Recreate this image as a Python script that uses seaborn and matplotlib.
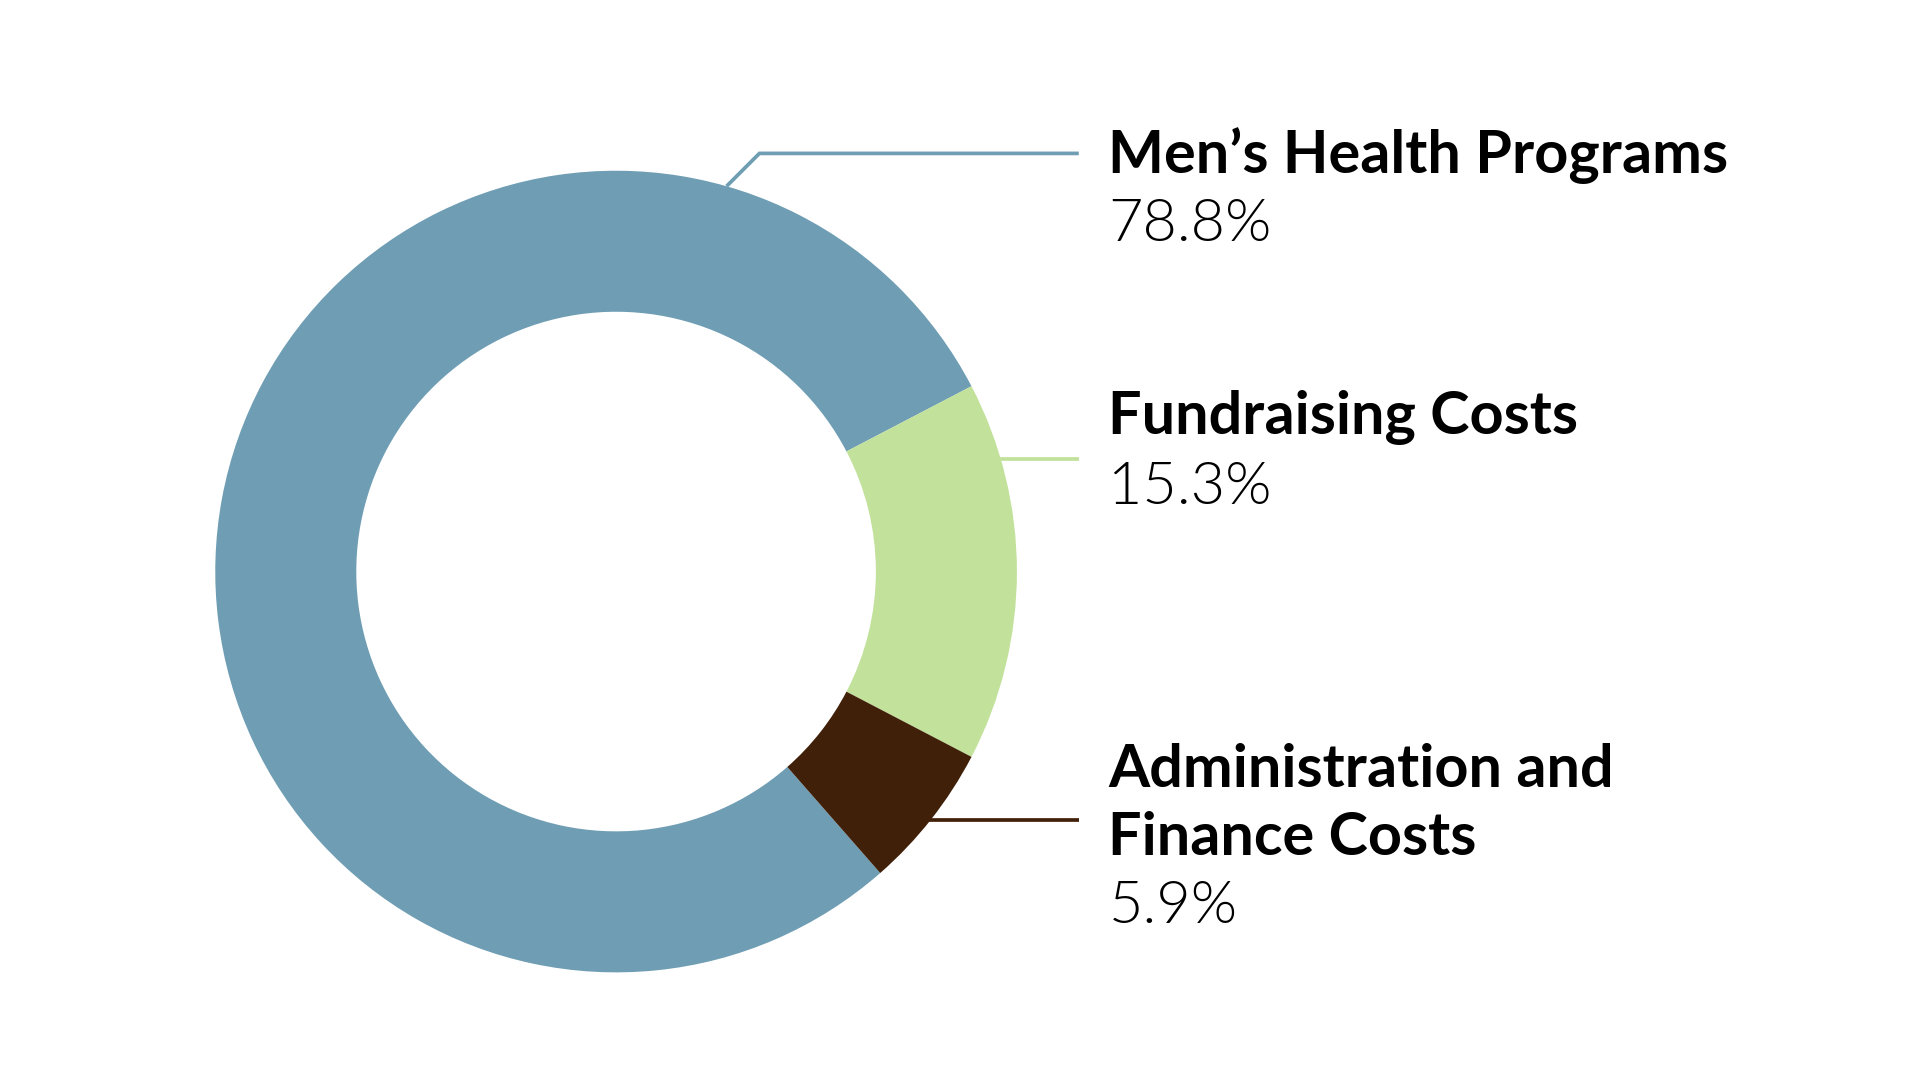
import numpy as np
import matplotlib
matplotlib.use("Agg")
import matplotlib.pyplot as plt
from matplotlib import font_manager
import seaborn as sns

# ---- data ----
categories = ["Men\u2019s Health Programs", "Fundraising Costs", "Administration and\nFinance Costs"]
values = [78.8, 15.3, 5.9]
value_labels = ["78.8%", "15.3%", "5.9%"]
colors = ["#6F9EB4", "#C2E19B", "#41200A"]

sns.set_theme(style="white")
plt.rcParams["font.family"] = ["Lato", "DejaVu Sans"]

# find a light (not hairline) face for the percentages
light_file = None
for f in font_manager.findSystemFonts():
    name = f.split("/")[-1].lower()
    if name in ("lato-light.ttf", "lato-light.otf"):
        light_file = f
        break

W, H = 1552, 873           # layout units (scaled to 1920x1080)
S = 1920 / W               # px per unit
pt = S * 72 / 100          # points per unit

fig = plt.figure(figsize=(19.2, 10.8), dpi=100)
ax = fig.add_axes([0, 0, 1, 1])

cx, cy = 498, H - 462
R = 324
ring = 114

# start so that the fundraising wedge is centred on 3 o'clock
start = values[0] / 100 * 360 + values[1] / 100 * 180
ax.pie(values, colors=colors, startangle=start, counterclock=False,
       center=(cx, cy), radius=R,
       wedgeprops=dict(width=ring, edgecolor="none", linewidth=0),
       frame=True)
ax.set_xlim(0, W)
ax.set_ylim(0, H)
ax.set_aspect("equal")
ax.axis("off")

# ---- leader lines & labels ----
line_end = 872
text_x = 896
lw = 3 * pt

# Men's: from ring at 74 deg, elbow then horizontal
a = np.deg2rad(74)
p0 = (cx + R * np.cos(a), cy + R * np.sin(a))
ly = H - 124
elbow = (p0[0] + (ly - p0[1]), ly)
ax.plot([p0[0], elbow[0], line_end], [p0[1], elbow[1], ly],
        color=colors[0], lw=lw, solid_capstyle="butt", solid_joinstyle="miter")

# Fundraising: horizontal from ring
ly = H - 371
x0 = cx + np.sqrt(R ** 2 - (ly - cy) ** 2) - 2
ax.plot([x0, line_end], [ly, ly], color=colors[1], lw=lw, solid_capstyle="butt")

# Admin: horizontal from inside the wedge
ly = H - 663
x0 = cx + np.sqrt(R ** 2 - (ly - cy) ** 2) - 6
ax.plot([x0, line_end], [ly, ly], color=colors[2], lw=lw, solid_capstyle="butt")

fs = 48 * pt
if light_file:
    val_kw = dict(fontproperties=font_manager.FontProperties(fname=light_file, size=fs))
else:
    val_kw = dict(fontsize=fs, fontweight="normal")

baselines_title = [[140], [351], [636, 691]]
baselines_value = [195, 407, 746]
for cat, val, bt, bv in zip(categories, value_labels, baselines_title, baselines_value):
    for line, b in zip(cat.split("\n"), bt):
        ax.text(text_x, H - b, line, fontsize=fs, fontweight="bold",
                color="black", va="baseline", ha="left")
    ax.text(text_x, H - bv, val, color="black", va="baseline", ha="left", **val_kw)

fig.savefig("out.png", dpi=100, facecolor="white")
